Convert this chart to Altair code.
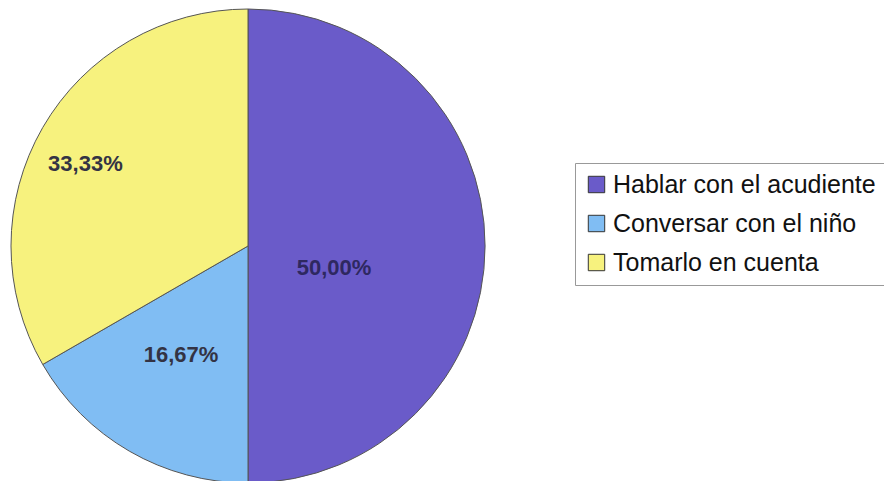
import altair as alt
import pandas as pd

categories = ["Hablar con el acudiente", "Conversar con el niño", "Tomarlo en cuenta"]
values = [50.00, 16.67, 33.33]
labels = ["50,00%", "16,67%", "33,33%"]
colors = ["#6a5bc9", "#80bdf3", "#f7f27e"]

df = pd.DataFrame({"cat": categories, "val": values, "lab": labels, "ord": [0, 1, 2]})

cx, cy, R = 240, 238, 237

base = alt.Chart(df).transform_stack(
    stack="val", as_=["s0", "s1"], groupby=[], sort=[alt.SortField("ord")]
).transform_calculate(mid="(datum.s0 + datum.s1) / 2")

tscale = alt.Scale(domain=[0, 100])

pie = base.mark_arc(stroke="#555555", strokeWidth=1, outerRadius=R).encode(
    x=alt.value(cx), y=alt.value(cy),
    theta=alt.Theta("s0:Q", scale=tscale), theta2="s1:Q",
    color=alt.Color(
        "cat:N",
        scale=alt.Scale(domain=categories, range=colors),
        sort=categories,
        legend=alt.Legend(
            title=None, orient="none", legendX=567, legendY=155,
            symbolType="square", symbolSize=270, symbolStrokeColor="#333333",
            symbolStrokeWidth=1, labelFontSize=25, labelFont="Liberation Sans",
            labelColor="#111111", rowPadding=13, padding=9,
            strokeColor="#999999", fillColor="white", labelLimit=400,
            symbolOffset=0, labelOffset=4,
        ),
    ),
)

def lbl(name, r, color, dx=0, dy=0):
    return base.transform_filter(alt.datum.lab == name).mark_text(
        radius=r, fontSize=22, fontWeight="bold", dx=dx, dy=dy,
        font="Liberation Sans", color=color).encode(
        x=alt.value(cx), y=alt.value(cy),
        theta=alt.Theta("mid:Q", scale=tscale), text="lab:N"
    )

chart = alt.layer(
    pie,
    lbl("50,00%", 86, "#2e2860", dy=22),
    lbl("16,67%", 128, "#333344", dx=-3, dy=-2),
    lbl("33,33%", 182, "#333344", dx=-5, dy=9),
).properties(
    width=876, height=473,
    autosize=alt.AutoSizeParams(type="none"),
    padding=0,
).configure_view(stroke=None)

chart.save("out.html", embed_options={"renderer": "svg", "actions": False})
